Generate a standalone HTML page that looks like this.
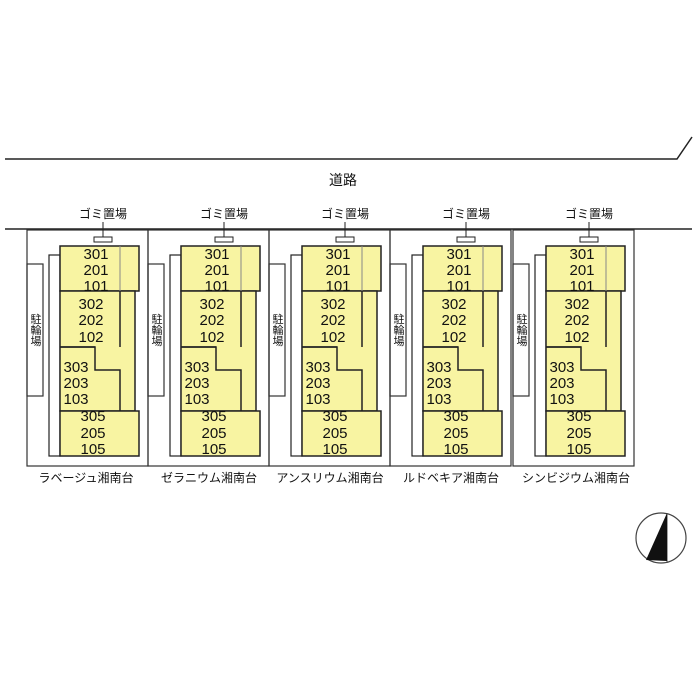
<!DOCTYPE html>
<html><head><meta charset="utf-8"><style>
html,body{margin:0;padding:0;background:#fff;}
svg{display:block}
text{font-family:"Liberation Sans","Noto Sans CJK JP",sans-serif;fill:#111}
.n{font-size:15px;text-anchor:middle}
</style></head><body>
<svg width="700" height="700" viewBox="0 0 700 700">
<defs>
<g id="blk">
  <rect x="27" y="230" width="121" height="236" fill="none" stroke="#333" stroke-width="1.2"/>
  <rect x="27" y="264" width="16" height="132" fill="none" stroke="#333" stroke-width="1.2"/>
  <rect x="49" y="255" width="11" height="201" fill="none" stroke="#222" stroke-width="1.2"/>
  <rect x="60" y="246" width="79" height="45" fill="#f8f4a2" stroke="#222" stroke-width="1.5"/>
  <rect x="60" y="291" width="75" height="120" fill="#f8f4a2" stroke="#222" stroke-width="1.5"/>
  <line x1="120" y1="246" x2="120" y2="291" stroke="#888" stroke-width="1"/>
  <polyline points="60,347 95,347 95,370 120,370 120,411" fill="none" stroke="#222" stroke-width="1.5"/>
  <line x1="120" y1="291" x2="120" y2="347" stroke="#222" stroke-width="1.5"/>
  <line x1="60" y1="347" x2="95" y2="347" stroke="#222" stroke-width="1.5"/>
  <rect x="60" y="411" width="79" height="45" fill="#f8f4a2" stroke="#222" stroke-width="1.5"/>
  <line x1="103" y1="222" x2="103" y2="237" stroke="#222" stroke-width="1"/>
  <rect x="94" y="237" width="18" height="5" fill="#fff" stroke="#222" stroke-width="1"/>
</g>
</defs>
<polyline points="5,159 677,159 692,137" fill="none" stroke="#222" stroke-width="1.5"/>
<line x1="5" y1="229" x2="692" y2="229" stroke="#222" stroke-width="1.5"/>
<text x="343" y="185" font-size="14" text-anchor="middle">道路</text>

<g transform="translate(0,0)"><use href="#blk"/>
<text x="103" y="218" font-size="12" text-anchor="middle">ゴミ置場</text>
<text x="35" y="330" font-size="11" text-anchor="middle" writing-mode="tb">駐輪場</text>
<g class="n"><text class="n" x="96" y="259">301</text><text class="n" x="96" y="275">201</text><text class="n" x="96" y="291">101</text>
<text class="n" x="91" y="309">302</text><text class="n" x="91" y="325">202</text><text class="n" x="91" y="342">102</text>
<text class="n" x="76" y="372">303</text><text class="n" x="76" y="388">203</text><text class="n" x="76" y="404">103</text>
<text class="n" x="93" y="421">305</text><text class="n" x="93" y="438">205</text><text class="n" x="93" y="454">105</text></g>
<text x="86" y="482" font-size="12" text-anchor="middle">ラベージュ湘南台</text></g>

<g transform="translate(121,0)"><use href="#blk"/>
<text x="103" y="218" font-size="12" text-anchor="middle">ゴミ置場</text>
<text x="35" y="330" font-size="11" text-anchor="middle" writing-mode="tb">駐輪場</text>
<text class="n" x="96" y="259">301</text><text class="n" x="96" y="275">201</text><text class="n" x="96" y="291">101</text>
<text class="n" x="91" y="309">302</text><text class="n" x="91" y="325">202</text><text class="n" x="91" y="342">102</text>
<text class="n" x="76" y="372">303</text><text class="n" x="76" y="388">203</text><text class="n" x="76" y="404">103</text>
<text class="n" x="93" y="421">305</text><text class="n" x="93" y="438">205</text><text class="n" x="93" y="454">105</text>
<text x="88" y="482" font-size="12" text-anchor="middle">ゼラニウム湘南台</text></g>

<g transform="translate(242,0)"><use href="#blk"/>
<text x="103" y="218" font-size="12" text-anchor="middle">ゴミ置場</text>
<text x="35" y="330" font-size="11" text-anchor="middle" writing-mode="tb">駐輪場</text>
<text class="n" x="96" y="259">301</text><text class="n" x="96" y="275">201</text><text class="n" x="96" y="291">101</text>
<text class="n" x="91" y="309">302</text><text class="n" x="91" y="325">202</text><text class="n" x="91" y="342">102</text>
<text class="n" x="76" y="372">303</text><text class="n" x="76" y="388">203</text><text class="n" x="76" y="404">103</text>
<text class="n" x="93" y="421">305</text><text class="n" x="93" y="438">205</text><text class="n" x="93" y="454">105</text>
<text x="88" y="482" font-size="12" text-anchor="middle">アンスリウム湘南台</text></g>

<g transform="translate(363,0)"><use href="#blk"/>
<text x="103" y="218" font-size="12" text-anchor="middle">ゴミ置場</text>
<text x="35" y="330" font-size="11" text-anchor="middle" writing-mode="tb">駐輪場</text>
<text class="n" x="96" y="259">301</text><text class="n" x="96" y="275">201</text><text class="n" x="96" y="291">101</text>
<text class="n" x="91" y="309">302</text><text class="n" x="91" y="325">202</text><text class="n" x="91" y="342">102</text>
<text class="n" x="76" y="372">303</text><text class="n" x="76" y="388">203</text><text class="n" x="76" y="404">103</text>
<text class="n" x="93" y="421">305</text><text class="n" x="93" y="438">205</text><text class="n" x="93" y="454">105</text>
<text x="88" y="482" font-size="12" text-anchor="middle">ルドベキア湘南台</text></g>

<g transform="translate(486,0)"><use href="#blk"/>
<text x="103" y="218" font-size="12" text-anchor="middle">ゴミ置場</text>
<text x="35" y="330" font-size="11" text-anchor="middle" writing-mode="tb">駐輪場</text>
<text class="n" x="96" y="259">301</text><text class="n" x="96" y="275">201</text><text class="n" x="96" y="291">101</text>
<text class="n" x="91" y="309">302</text><text class="n" x="91" y="325">202</text><text class="n" x="91" y="342">102</text>
<text class="n" x="76" y="372">303</text><text class="n" x="76" y="388">203</text><text class="n" x="76" y="404">103</text>
<text class="n" x="93" y="421">305</text><text class="n" x="93" y="438">205</text><text class="n" x="93" y="454">105</text>
<text x="90" y="482" font-size="12" text-anchor="middle">シンビジウム湘南台</text></g>

<circle cx="661" cy="538" r="25" fill="#fff" stroke="#444" stroke-width="1.2"/>
<line x1="667" y1="513" x2="667" y2="563" stroke="#444" stroke-width="1"/>
<polygon points="667,513 667,561 646,560" fill="#111"/>
</svg>
</body></html>
